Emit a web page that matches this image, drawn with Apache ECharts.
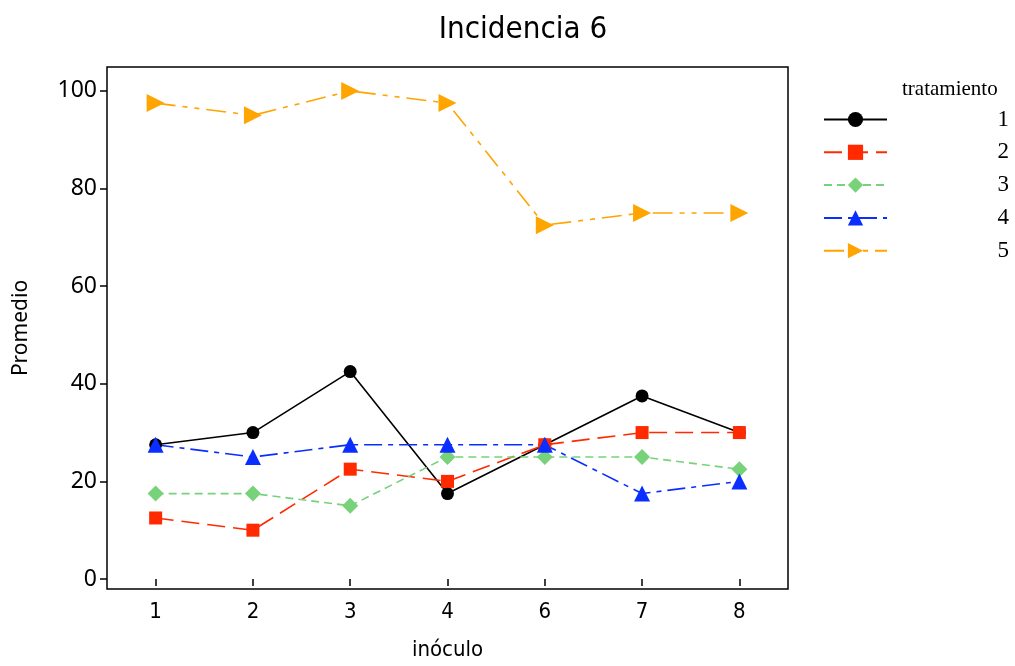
<!DOCTYPE html>
<html><head><meta charset="utf-8">
<script src="https://cdn.jsdelivr.net/npm/echarts@6/dist/echarts.min.js"></script>
<style>html,body{margin:0;padding:0;background:#fff}#c{width:1015px;height:666px}</style>
</head><body><div id="c"></div>
<script>
const categories = ['1','2','3','4','6','7','8'];
const yTicks = [0,20,40,60,80,100];
const t1 = [27.5, 30, 42.5, 17.5, 27.5, 37.5, 30];
const t2 = [12.5, 10, 22.5, 20, 27.5, 30, 30];
const t3 = [17.5, 17.5, 15, 25, 25, 25, 22.5];
const t4 = [27.5, 25, 27.5, 27.5, 27.5, 17.5, 20];
const t5 = [97.5, 95, 100, 97.5, 72.5, 75, 75];
const names = ['1','2','3','4','5'];

const chart = echarts.init(document.getElementById('c'));
const narrow = '"DejaVu Sans Condensed", "Liberation Sans Narrow", sans-serif';
function mk(name, data, color, symbol, size, dash, rot) {
  return {
    name, type: 'line', data, symbol, symbolSize: size, symbolRotate: rot || 0,
    lineStyle: {color, width: 1.6, type: dash},
    itemStyle: {color},
    emphasis: {disabled: true},
    z: 2
  };
}
chart.setOption({
  animation: false,
  title: [
    {text: 'Incidencia 6', left: 518, top: 9, textAlign: 'center',
     textStyle: {fontFamily: narrow, fontSize: 31, fontWeight: 'normal', color: '#000'}},
    {text: 'tratamiento', left: 897, top: 74,
     textStyle: {fontFamily: '"Liberation Serif", serif', fontSize: 21, fontWeight: 'normal', color: '#000'}}
  ],
  grid: {left: 107, right: 227, top: 67, bottom: 76, show: true, borderColor: '#000', borderWidth: 1.5, backgroundColor: 'transparent'},
  legend: {
    orient: 'vertical', left: 818, top: 103, itemWidth: 63, itemHeight: 19, itemGap: 9.8,
    data: names,
    formatter: n => '{a|' + n + '}',
    textStyle: {
      rich: {a: {fontFamily: '"Liberation Serif", serif', fontSize: 23, color: '#000', width: 117, align: 'right', lineHeight: 18}}
    },
    selectedMode: false
  },
  xAxis: {
    type: 'category', data: categories, boundaryGap: true,
    name: 'inóculo', nameLocation: 'middle', nameGap: 50,
    nameTextStyle: {fontFamily: narrow, fontSize: 22, color: '#000'},
    axisLine: {show: false},
    axisTick: {show: true, alignWithLabel: true, length: 7, lineStyle: {color: '#000', width: 1.5}},
    axisLabel: {fontFamily: narrow, fontSize: 22, color: '#000', margin: 12},
    splitLine: {show: false}
  },
  yAxis: {
    type: 'value', min: -2.05, max: 104.9,
    name: 'Promedio', nameLocation: 'middle', nameGap: 75,
    nameTextStyle: {fontFamily: '"Noto Sans", sans-serif', fontSize: 21, color: '#000'},
    axisLine: {show: false},
    axisTick: {show: true, length: 7, customValues: yTicks, lineStyle: {color: '#000', width: 1.5}},
    axisLabel: {fontFamily: '"Noto Sans", sans-serif', fontSize: 23, color: '#000', margin: 10, customValues: yTicks},
    splitLine: {show: false}
  },
  series: [
    mk('1', t1, '#000000', 'circle', 13, 'solid'),
    mk('2', t2, '#FF2A00', 'rect', 13, [18, 8]),
    mk('3', t3, '#77D27A', 'diamond', 16, [8, 5]),
    mk('4', t4, '#0A2EFF', 'triangle', 16, [18, 6, 5, 6]),
    mk('5', t5, '#FFA500', 'triangle', 18, [20, 7, 5, 7, 5, 7], -90)
  ]
});
</script></body></html>
